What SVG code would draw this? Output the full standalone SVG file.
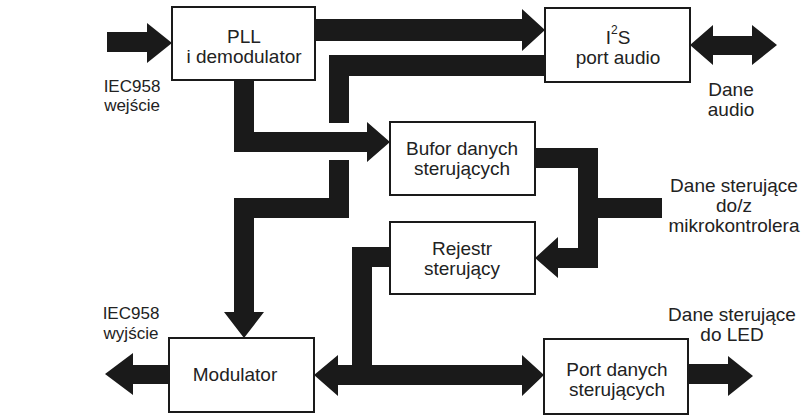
<svg xmlns="http://www.w3.org/2000/svg" width="804" height="415" viewBox="0 0 804 415">
  <style>
    .box { fill: #ffffff; stroke: #1a1a1a; stroke-width: 2; }
    .bus { fill: #1a1a1a; stroke: none; }
    text { font-family: "Liberation Sans", Arial, Helvetica, sans-serif; fill: #222222; }
    .t { font-size: 19px; text-anchor: middle; }
    .lbl { font-size: 17px; text-anchor: middle; }
  </style>
  <rect width="804" height="415" fill="#ffffff"/>

  <!-- thick data paths -->
  <g id="connectors">
    <!-- IEC958 input into PLL -->
    <polygon class="bus" points="107,32 147,32 147,23 172,43 147,63 147,52 107,52"/>
    <!-- PLL to I2S -->
    <polygon class="bus" points="315,19 522,19 522,9 545,30 522,51 522,41 315,41"/>
    <!-- I2S down to Modulator, broken where it crosses the buffer feed -->
    <polygon class="bus" points="545,55 545,76 349,76 349,123 329,123 329,55"/>
    <polygon class="bus" points="329,160 349,160 349,218 254,218 254,312 264,312 244,338 224,312 234,312 234,198 329,198"/>
    <!-- PLL to control data buffer -->
    <polygon class="bus" points="234,80 254,80 254,132 367,132 367,122 390,142 367,162 367,152 234,152"/>
    <!-- buffer to register loop with microcontroller stub -->
    <polygon class="bus" points="535,148 598,148 598,198 662,198 662,218 598,218 598,268 558,268 558,278 535,258 558,237 558,248 578,248 578,168 535,168"/>
    <!-- register down to the lower bus -->
    <polygon class="bus" points="390,247 390,267 372,267 372,366 352,366 352,247"/>
    <!-- lower bus: Modulator <-> control data port -->
    <polygon class="bus" points="314,375 338,355 338,365 522,365 522,355 544,375 522,396 522,385 338,385 338,396"/>
    <!-- IEC958 output from Modulator -->
    <polygon class="bus" points="169,365 169,384 133,384 133,395 105,374 133,353 133,365"/>
    <!-- LED output -->
    <polygon class="bus" points="688,364 728,364 728,356 753,376 728,396 728,384 688,384"/>
    <!-- audio data both ways -->
    <polygon class="bus" points="690,45 713,25 713,36 752,36 752,25 777,45 752,65 752,55 713,55 713,65"/>
  </g>

  <g id="pll">
    <rect class="box" x="172" y="7" width="143" height="73"/>
    <text class="t" x="244" y="43">PLL</text>
    <text class="t" x="244" y="63">i demodulator</text>
  </g>

  <g id="i2s">
    <rect class="box" x="545" y="8" width="145" height="74"/>
    <text class="t" x="618" y="44">I<tspan font-size="12" dy="-10">2</tspan><tspan dy="10">S</tspan></text>
    <text class="t" x="618" y="64">port audio</text>
  </g>

  <g id="bufor">
    <rect class="box" x="390" y="122" width="145" height="73"/>
    <text class="t" x="462" y="155">Bufor danych</text>
    <text class="t" x="462" y="175">sterujących</text>
  </g>

  <g id="rejestr">
    <rect class="box" x="390" y="222" width="145" height="72"/>
    <text class="t" x="462" y="255">Rejestr</text>
    <text class="t" x="462" y="275">sterujący</text>
  </g>

  <g id="modulator">
    <rect class="box" x="169" y="338" width="145" height="74"/>
    <text class="t" x="235" y="381">Modulator</text>
  </g>

  <g id="port-danych">
    <rect class="box" x="544" y="339" width="144" height="75"/>
    <text class="t" x="617" y="376">Port danych</text>
    <text class="t" x="617" y="396">sterujących</text>
  </g>

  <g id="labels">
    <text class="lbl" x="132" y="92">IEC958</text>
    <text class="lbl" x="132" y="111">wejście</text>
    <text class="t" x="731" y="96">Dane</text>
    <text class="t" x="731" y="116">audio</text>
    <text class="t" x="734" y="192">Dane sterujące</text>
    <text class="t" x="734" y="212">do/z</text>
    <text class="t" x="734" y="232">mikrokontrolera</text>
    <text class="lbl" x="131" y="319">IEC958</text>
    <text class="lbl" x="131" y="339">wyjście</text>
    <text class="t" x="732" y="321">Dane sterujące</text>
    <text class="t" x="732" y="341">do LED</text>
  </g>
</svg>
